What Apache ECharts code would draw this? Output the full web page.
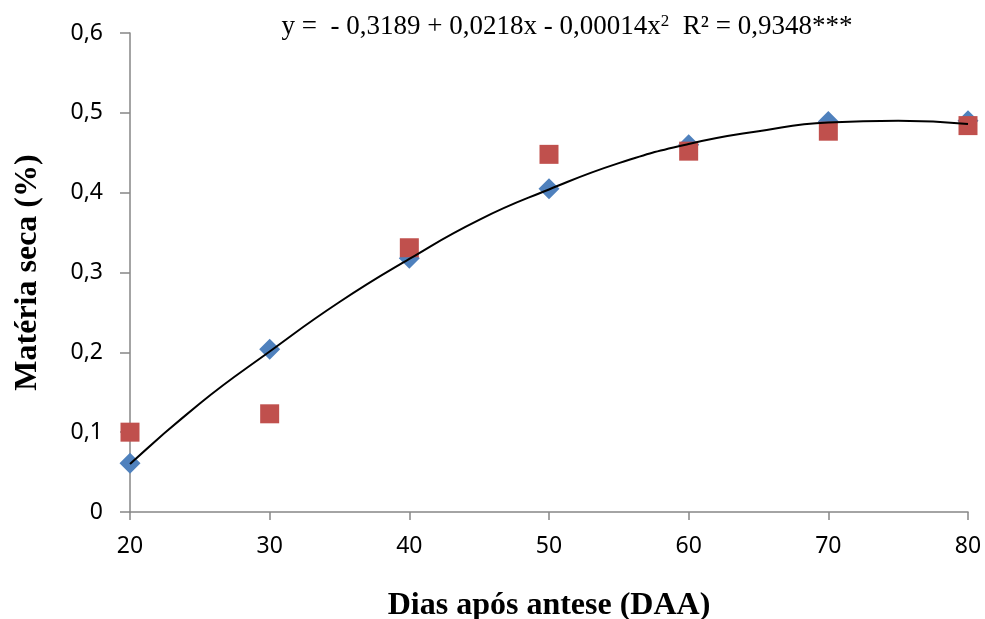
<!DOCTYPE html>
<html>
<head>
<meta charset="utf-8">
<script src="https://cdn.jsdelivr.net/npm/echarts@6/dist/echarts.min.js"></script>
<style>html,body{margin:0;padding:0;background:#fff;}#c{width:985px;height:619px;}</style>
</head>
<body>
<div id="c"></div>
<script>
const days = [20, 30, 40, 50, 60, 70, 80];
const serieA = [0.061, 0.204, 0.318, 0.405, 0.460, 0.489, 0.490];
const serieB = [0.100, 0.123, 0.331, 0.448, 0.452, 0.477, 0.484];
const curveX = [20, 25, 30, 35, 40, 45, 50, 55, 60, 65, 70, 75, 80];
const curveY = [0.060, 0.136, 0.201, 0.263, 0.317, 0.366, 0.404, 0.437, 0.461, 0.477, 0.488, 0.490, 0.486];
const yTicks = [0, 0.1, 0.2, 0.3, 0.4, 0.5, 0.6];

const chart = echarts.init(document.getElementById('c'));
const pairs = (xs, ys) => xs.map((x, i) => [x, ys[i]]);
const fmt = v => (Math.round(v * 10) / 10).toString().replace('.', ',');

chart.setOption({
  animation: false,
  backgroundColor: '#fff',
  title: {
    text: '{t|y =  - 0,3189 + 0,0218x - 0,00014x}{s|2}{t|  R² = 0,9348***}',
    left: 562, top: 8, textAlign: 'center',
    textStyle: {
      fontWeight: 'normal',
      rich: {
        t: {fontFamily: 'Liberation Serif', fontSize: 27, fontWeight: 'normal', color: '#000', verticalAlign: 'bottom'},
        s: {fontFamily: 'Liberation Serif', fontSize: 17, fontWeight: 'normal', color: '#000', verticalAlign: 'top', padding: [0, 0, 10, 0]}
      }
    }
  },
  grid: {left: 130, right: 17, top: 33, bottom: 107, containLabel: false, outerBoundsMode: 'none'},
  xAxis: {
    type: 'value', min: 20, max: 80, interval: 10,
    axisLine: {lineStyle: {color: '#868686', width: 1.5}},
    axisTick: {show: true, length: 8, lineStyle: {color: '#868686', width: 1.5}},
    splitLine: {show: false},
    axisLabel: {fontFamily: 'Noto Sans', fontSize: 23, color: '#000', margin: 23},
    name: 'Dias após antese (DAA)', nameLocation: 'middle', nameGap: 78,
    nameTextStyle: {fontFamily: 'Liberation Serif', fontWeight: 'bold', fontSize: 32, color: '#000'}
  },
  yAxis: {
    type: 'value', min: 0, max: 0.6, interval: 0.1,
    axisLine: {show: true, lineStyle: {color: '#868686', width: 1.5}},
    axisTick: {show: true, length: 10, lineStyle: {color: '#868686', width: 1.5}},
    splitLine: {show: false},
    axisLabel: {fontFamily: 'Noto Sans', fontSize: 23, color: '#000', margin: 27, formatter: fmt},
    name: 'Matéria seca (%)', nameLocation: 'middle', nameGap: 86,
    nameTextStyle: {fontFamily: 'Liberation Serif', fontWeight: 'bold', fontSize: 32, color: '#000'}
  },
  series: [
    {type: 'scatter', data: pairs(days, serieA), symbol: 'diamond', symbolSize: 21,
     itemStyle: {color: '#4F81BD', opacity: 1}, z: 2},
    {type: 'scatter', data: pairs(days, serieB), symbol: 'rect', symbolSize: 19,
     itemStyle: {color: '#C0504D', opacity: 1}, z: 3},
    {type: 'line', data: pairs(curveX, curveY), smooth: true, showSymbol: false, symbol: 'none',
     lineStyle: {color: '#000', width: 2}, z: 4}
  ]
});
</script>
</body>
</html>
